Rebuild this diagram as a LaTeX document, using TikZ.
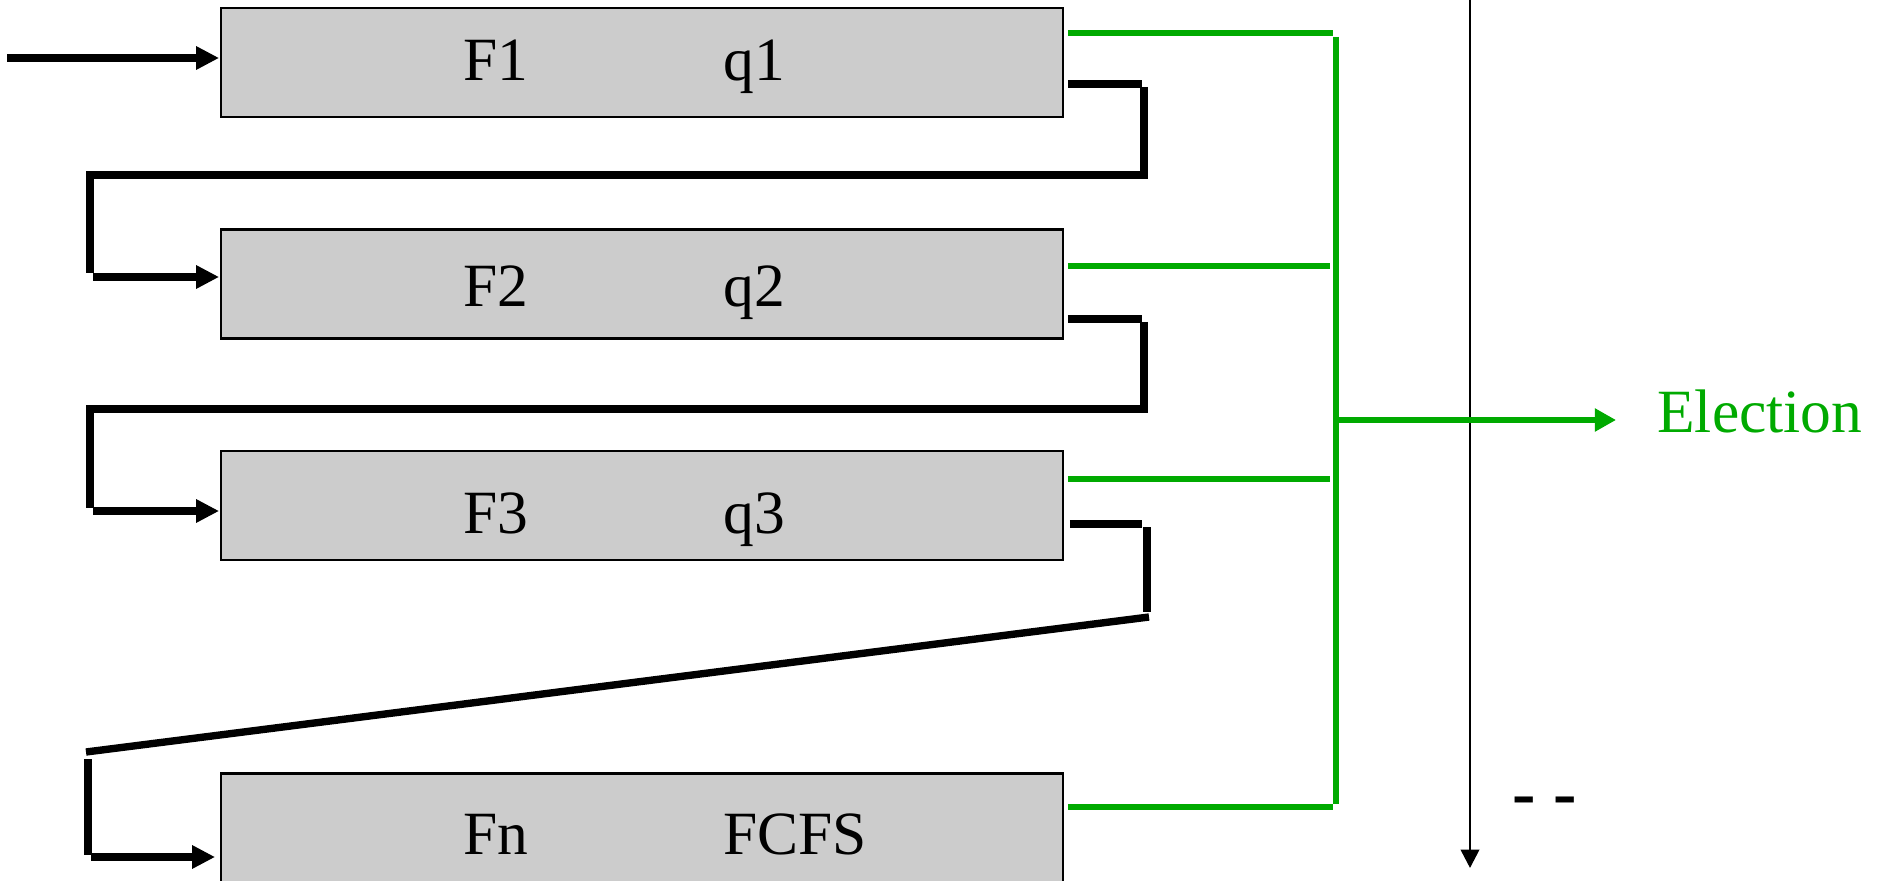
\documentclass[tikz,border=0pt]{standalone}
\usepackage{fontspec}
\setmainfont{Liberation Serif}
\usetikzlibrary{arrows.meta, calc}

\definecolor{queuegray}{RGB}{204,204,204}
\definecolor{votegreen}{RGB}{0,170,0}

\tikzset{
  queue/.style = {draw, fill=queuegray, line width=1.5pt, outer sep=0pt, inner sep=0pt,
                  minimum width=16.84cm, minimum height=2.18cm},
  qlabel/.style = {anchor=base west, inner sep=0pt, font=\fontsize{35}{40}\selectfont},
  link/.style = {line width=4.2pt},
  feed/.style = {link, -{Triangle[length=13pt, width=12.5pt]}},
  vote/.style = {draw=votegreen, line width=3.8pt}
}

\begin{document}
\begin{tikzpicture}[x=0.02cm, y=-0.02cm]
\useasboundingbox (0,0) rectangle (1879,881);

% the queues
\node[queue] (box1) at (642,62.5) {};
\node[queue] (box2) at (642,284) {};
\node[queue] (box3) at (642,505.5) {};
\node[queue] (box4) at (642,828) {};

\node[qlabel] (f1) at (463,81) {F1};
\node[qlabel] (q1) at (723,81) {q1};
\node[qlabel] (f2) at (463,307) {F2};
\node[qlabel] (q2) at (723,307) {q2};
\node[qlabel] (f3) at (463,533) {F3};
\node[qlabel] (q3) at (723,533) {q3};
\node[qlabel] (fn) at (463,854) {Fn};
\node[qlabel] (qn) at (723,854) {FCFS};

% new jobs enter the first queue
\coordinate (in) at (7,58);
\draw[feed] (in) -- ($(box1.west |- in)+(-2,0)$);

% demotion from one queue to the next
\draw[link] ($(box1.east)+(5,21.5)$) -- ++(74,0);
\draw[link] ($(box1.east)+(81,24.5)$) |- (90,175) -- (90,273);
\draw[feed] ($(box2.west)+(-128,-7)$) -- ($(box2.west)+(-2,-7)$);

\draw[link] ($(box2.east)+(5,35)$) -- ++(74,0);
\draw[link] ($(box2.east)+(81,38)$) |- (90,409) -- (90,508);
\draw[feed] ($(box3.west)+(-128,5.5)$) -- ($(box3.west)+(-2,5.5)$);

\draw[link] ($(box3.east)+(7,18.5)$) -- ++(72,0);
\draw[link] ($(box3.east)+(84,21.5)$) -- ++(0,85);
\draw[link] (1149,617) -- (86,752);
\draw[link] (88,759) -- (88,855);
\draw[feed] ($(box4.west)+(-130,29)$) -- ($(box4.west)+(-6,29)$);

% time axis
\coordinate (ttop) at (1470,0);
\coordinate (tend) at (1470,868);
\draw[line width=1.5pt, -{Triangle[length=10.5pt, width=10.5pt]}] (ttop) -- (tend);
\node[anchor=base, inner sep=0pt, font=\fontsize{40}{44}\selectfont\bfseries] (more) at (1545,816) {- -};

% every queue takes part in the election
\draw[vote] ($(box1.east)+(5,-29.5)$) -- ++(265,0);
\draw[vote] ($(box2.east)+(5,-18)$) -- ++(262,0);
\draw[vote] ($(box3.east)+(5,-26.5)$) -- ++(262,0);
\draw[vote] ($(box4.east)+(5,-21)$) -- ++(265,0);
\draw[vote] (1336,37) -- (1336,804);

\node[qlabel, text=votegreen] (elect) at (1657,433) {Election};
\coordinate (bus) at (1336,420);
\draw[vote, -{Triangle[length=12pt, width=12.5pt]}] (bus) -- ($(elect.west |- bus)+(-41,0)$);
\end{tikzpicture}
\end{document}
